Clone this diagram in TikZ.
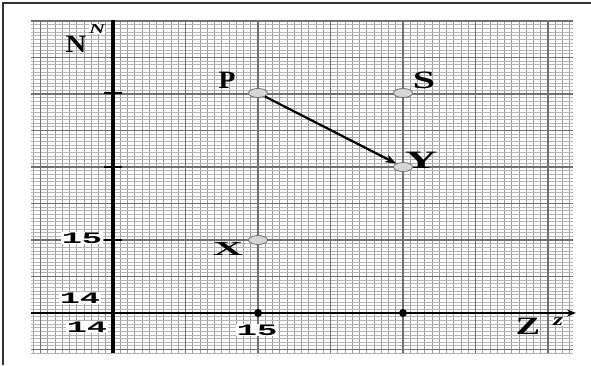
\documentclass[tikz,border=0pt]{standalone}
\usepackage{fontspec}
\setmainfont{Liberation Serif}
\newfontfamily\monofnt{Liberation Mono}
\usetikzlibrary{arrows.meta,shapes.geometric}
\definecolor{finegridv}{HTML}{9C9C9C}
\definecolor{finegridh}{HTML}{B4B4B4}
\definecolor{midgrid}{HTML}{707070}
\definecolor{ptfill}{HTML}{D6D6D6}
\tikzset{
  pt/.style={ellipse,draw=midgrid,fill=ptfill,line width=0.8pt,minimum width=19pt,minimum height=9pt,inner sep=0pt},
  lbl/.style={font=\fontsize{25}{25}\selectfont\bfseries,inner sep=0pt},
  small/.style={font=\fontsize{17}{17}\selectfont\bfseries\itshape,inner sep=0.5pt},
  num/.style={font=\fontsize{16}{16}\selectfont\monofnt\bfseries,fill=white,inner sep=1pt},
  axis/.style={line width=3.5pt,black},
  tick/.style={line width=2.5pt,black},
  link/.style={line width=2.2pt,black,-{Stealth[length=11pt,width=8pt]}}
}
\begin{document}
\begin{tikzpicture}[x=1pt,y=-1pt]
\useasboundingbox (0,0) rectangle (591,365);
\fill[white] (0,0) rectangle (591,365);
% frame
\draw[line width=2pt,black!80] (3,365) -- (3,3) -- (591,3);
% fine grid
\foreach \k in {-11,...,63} {
  \draw[finegridv,line width=1pt] ({113+\k*7.25},21) -- ({113+\k*7.25},353);
}
\foreach \k in {-80,...,11} {
  \draw[finegridh,line width=0.8pt] (31,{313+\k*3.65}) -- (573,{313+\k*3.65});
}
% medium grid
\foreach \k in {-1,...,6} {
  \draw[midgrid,line width=1.3pt] ({113+\k*72.5},21) -- ({113+\k*72.5},353);
}
\foreach \k in {-8,...,1} {
  \draw[midgrid,line width=1.2pt] (31,{313+\k*36.5}) -- (573,{313+\k*36.5});
}
% axes
\coordinate (xa) at (31,313);
\coordinate (xb) at (576,313);
\coordinate (ya) at (113,353);
\coordinate (yb) at (113,20);
\draw[line width=2.5pt,-{Stealth[length=9pt,width=7pt]}] (xa) -- (xb);
\draw[axis] (ya) -- (yb);
% ticks on N axis
\foreach \y in {93,167,240} {
  \coordinate (tl) at (104,\y);
  \coordinate (tr) at (122,\y);
  \draw[tick] (tl) -- (tr);
}
% dots on Z axis
\fill (258,313) circle (4pt);
\fill (403,313) circle (4pt);
% tick labels
\node[num] (n15y) at (82,238) {\scalebox{2.1}[1]{15}};
\node[num] (n14y) at (80,298) {\scalebox{2.1}[1]{14}};
\node[num] (n14x) at (87,327) {\scalebox{2.1}[1]{14}};
\node[num] (n15x) at (257,330) {\scalebox{2.1}[1]{15}};
% axis names
\node[lbl] (N) at (76,44) {\scalebox{1.15}[1]{N}};
\node[small,fill=white] (n) at (97,29) {\scalebox{1.3}[0.8]{N}};
\node[lbl] (Z) at (528,326) {\scalebox{1.45}[1]{Z}};
\node[small,fill=white] (z) at (558,322) {\scalebox{1.5}[1]{z}};
% points
\node[pt] (P) at (258,93) {};
\node[pt] (S) at (403,93) {};
\node[pt] (Y) at (403,167) {};
\node[pt] (X) at (258,240) {};
\node[lbl] (Pl) at (227,80) {\scalebox{1.1}[1]{P}};
\node[lbl] (Sl) at (424,80) {\scalebox{1.6}[1]{S}};
\node[lbl] (Yl) at (421,160) {\scalebox{1.8}[1]{Y}};
\node[lbl,font=\fontsize{20}{20}\selectfont\bfseries] (Xl) at (228,249) {\scalebox{2.1}[1]{X}};
% vector
\draw[link] (P) -- (Y);
\end{tikzpicture}
\end{document}
